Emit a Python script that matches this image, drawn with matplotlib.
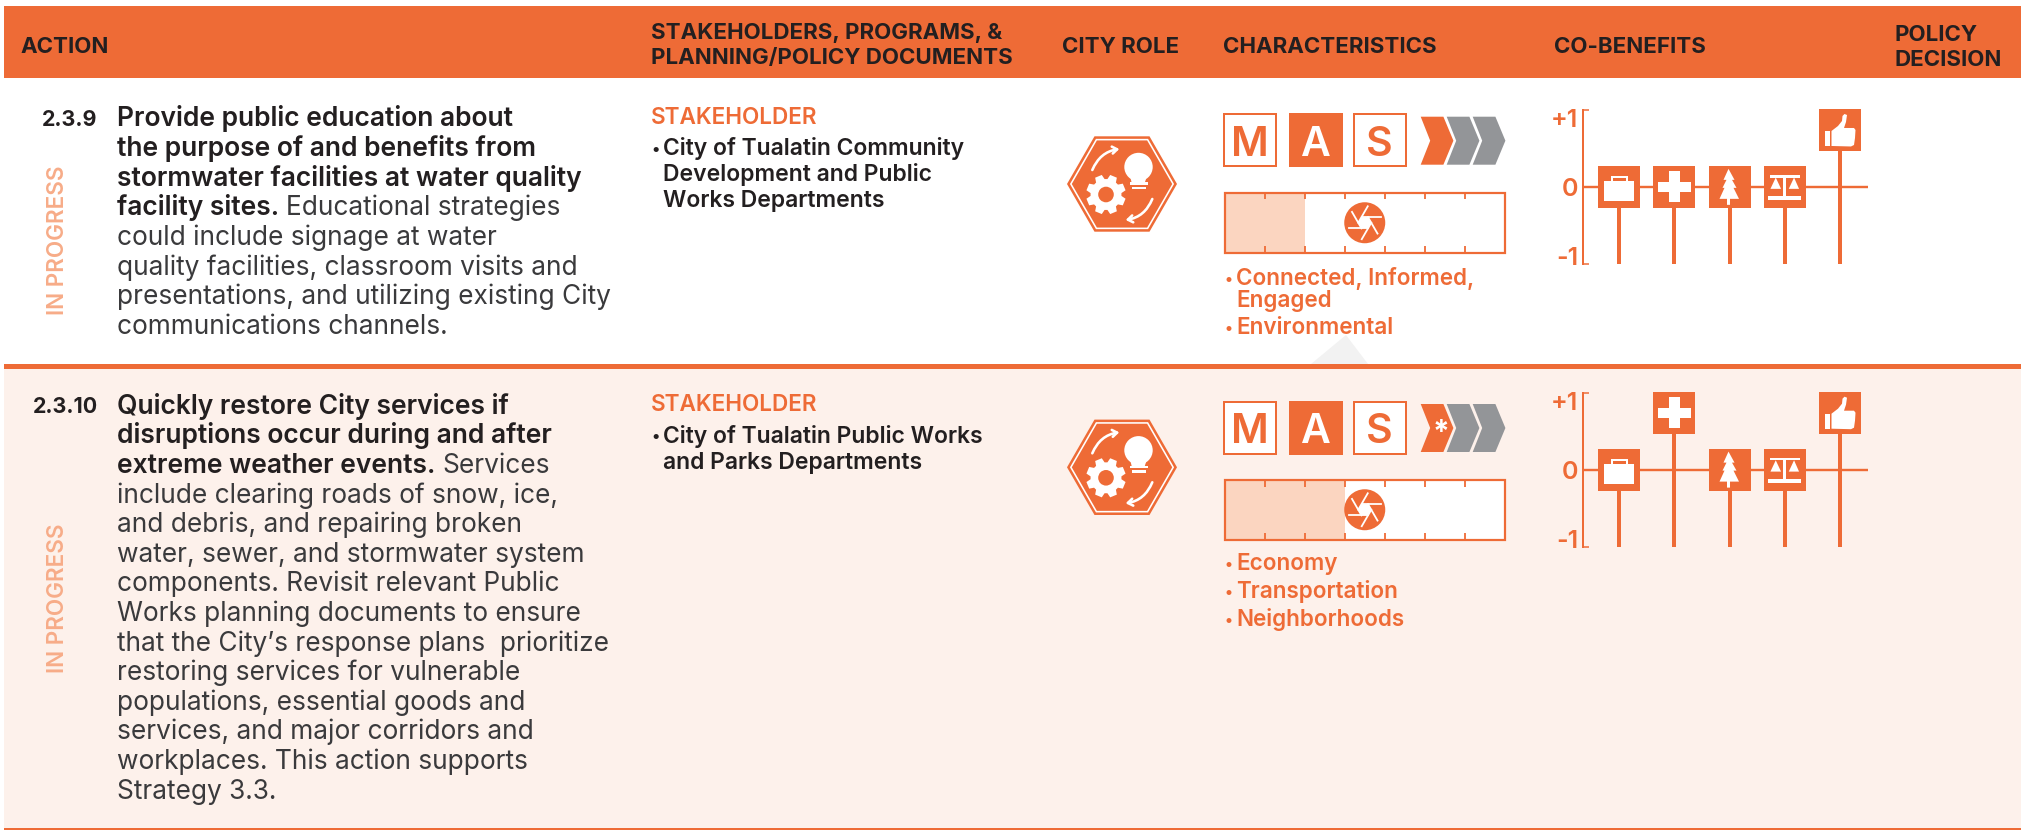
import numpy as np
import matplotlib
matplotlib.use("Agg")
import matplotlib.pyplot as plt
import matplotlib.patches as patches
from matplotlib.transforms import Affine2D

FONT = "Inter"
ORANGE = "#EE6B36"
LIGHT = "#FBD5C0"
FADED = "#F7AC88"
GREY = "#939598"
DARK = "#231F20"
BODY = "#3A3A3C"
TINT = "#FDF1EB"

# table contents
HEADERS = ["ACTION", "STAKEHOLDERS, PROGRAMS, &", "PLANNING/POLICY DOCUMENTS", "CITY ROLE",
           "CHARACTERISTICS", "CO-BENEFITS", "POLICY", "DECISION"]
NUMBERS = ["2.3.9", "2.3.10"]
STATUS = "IN PROGRESS"
ACTION_1 = [("Provide public education about", ""),
            ("the purpose of and benefits from", ""),
            ("stormwater facilities at water quality", ""),
            ("facility sites.", "Educational strategies"),
            ("", "could include signage at water"),
            ("", "quality facilities, classroom visits and"),
            ("", "presentations, and utilizing existing City"),
            ("", "communications channels.")]
ACTION_2 = [("Quickly restore City services if", ""),
            ("disruptions occur during and after", ""),
            ("extreme weather events.", "Services"),
            ("", "include clearing roads of snow, ice,"),
            ("", "and debris, and repairing broken"),
            ("", "water, sewer, and stormwater system"),
            ("", "components. Revisit relevant Public"),
            ("", "Works planning documents to ensure"),
            ("", "that the City\u2019s response plans  prioritize"),
            ("", "restoring services for vulnerable"),
            ("", "populations, essential goods and"),
            ("", "services, and major corridors and"),
            ("", "workplaces. This action supports"),
            ("", "Strategy 3.3.")]
STAKE_1 = ["City of Tualatin Community", "Development and Public", "Works Departments"]
STAKE_2 = ["City of Tualatin Public Works", "and Parks Departments"]
SECTORS_1 = [["Connected, Informed,", "Engaged"], ["Environmental"]]
SECTORS_2 = [["Economy"], ["Transportation"], ["Neighborhoods"]]

# values
MAS_LETTERS = ["M", "A", "S"]
MAS_ACTIVE = [0, 1, 0]
SCALE_CELLS = 7
SCALE_FILLED = [2, 3]
BENEFITS = ["briefcase", "cross", "tree", "scales", "thumb"]
BENEFIT_1 = [0, 0, 0, 0, 1]
BENEFIT_2 = [0, 1, 0, 0, 1]

W, H = 2021, 830
ICON_LIFT = 0.74

fig = plt.figure(figsize=(W / 100, H / 100), dpi=100, facecolor="white")
ax = fig.add_axes([0, 0, 1, 1])
ax.set_xlim(0, W)
ax.set_ylim(H, 0)
ax.axis("off")


def pt(v):
    return v * 0.72


def fit(text, width, weight):
    t = ax.text(0, 0, text, family=FONT, weight=weight, fontsize=20)
    w = t.get_window_extent(fig.canvas.get_renderer()).width
    t.remove()
    return 20 * width / w


SIZE_HEAD = fit("PLANNING/POLICY DOCUMENTS", 362, "bold")
SIZE_BOLD = fit("the purpose of and benefits from", 421, "semibold")
SIZE_BODY = fit("presentations, and utilizing existing City", 494, "normal")
SIZE_NUM = fit("2.3.9", 55.6, "bold")
SIZE_LABEL = fit("STAKEHOLDER", 167, "semibold")
SIZE_STAKE = fit("City of Tualatin Community", 302, "semibold")
SIZE_SECTOR = fit("Connected, Informed,", 239, "semibold")
SIZE_STATUS = fit(STATUS, 150, "semibold")


def put(x, y, s, size, weight="normal", color=DARK, **kw):
    return ax.text(x, y, s, family=FONT, fontsize=size, weight=weight, color=color, va="baseline", **kw)


def rect(x0, y0, x1, y1, **kw):
    kw.setdefault("linewidth", 0)
    p = patches.Rectangle((x0, y0), x1 - x0, y1 - y0, **kw)
    ax.add_patch(p)
    return p


def poly(pts, cx, cy, **kw):
    pts = np.array(pts, dtype=float) + [cx, cy]
    ax.add_patch(patches.Polygon(pts, closed=True, linewidth=kw.pop("linewidth", 0), **kw))


def draw_action(lines, base):
    r = fig.canvas.get_renderer()
    inv = ax.transData.inverted()
    for i, (bold, rest) in enumerate(lines):
        y = base + i * 29.6
        x = 117
        if bold:
            t = put(x, y, bold, SIZE_BOLD, "semibold", DARK)
            x = inv.transform(t.get_window_extent(r).p1)[0] + 7
        if rest:
            put(x, y, rest, SIZE_BODY, "normal", BODY)


def draw_role(cy, cx=1122):
    hexa = [(-55, 0), (-27.5, -47.7), (27.5, -47.7), (55, 0), (27.5, 47.7), (-27.5, 47.7)]
    poly(hexa, cx, cy, facecolor=ORANGE)
    inner = np.array(hexa) * 0.93
    poly(inner, cx, cy, facecolor="none", edgecolor="white", linewidth=pt(1.6))
    # bulb
    ax.add_patch(patches.Circle((cx + 16.5, cy - 17), 14.2, facecolor="white", linewidth=0))
    poly([(8, -8), (25, -8), (23, -2), (22.5, 0), (10, 0)], cx, cy, facecolor="white")
    rect(cx + 8, cy - 1.5, cx + 26, cy + 1, facecolor="white")
    rect(cx + 10, cy + 3, cx + 24, cy + 5.5, facecolor="white")
    # gear
    gx, gy = cx - 16, cy + 10.5
    ang = np.linspace(0, 2 * np.pi, 8, endpoint=False) + np.pi / 8
    pts = []
    for a in ang:
        for da, r in [(-0.30, 15.5), (-0.18, 20), (0.18, 20), (0.30, 15.5)]:
            pts.append((r * np.cos(a + da), r * np.sin(a + da)))
    poly(pts, gx, gy, facecolor="white")
    ax.add_patch(patches.Circle((gx, gy), 7.8, facecolor=ORANGE, linewidth=0))
    # arrows
    for a, b in [((-29.7, -14), (-2.7, -35)), ((30.3, 15), (3.7, 36))]:
        ax.add_patch(patches.FancyArrowPatch((cx + a[0], cy + a[1]), (cx + b[0], cy + b[1]),
                                             connectionstyle="arc3,rad=-0.28",
                                             arrowstyle="->,head_length=3.5,head_width=2.5",
                                             color="white", linewidth=pt(2.6), shrinkA=0, shrinkB=0))


def draw_mas(top):
    lefts = [1223.3, 1288.7, 1352.7]
    for x0, letter, on in zip(lefts, MAS_LETTERS, MAS_ACTIVE):
        rect(x0 + 1, top + 1, x0 + 53, top + 53, facecolor=ORANGE if on else "white",
             edgecolor=ORANGE, linewidth=pt(2))
        ax.text(x0 + 27, top + 27.5, letter, family=FONT, fontsize=pt(41), weight="semibold",
                color="white" if on else ORANGE, ha="center", va="center_baseline")


def draw_chevrons(cy, star=False):
    shape = [(0, -24), (22.7, -24), (32.7, 0), (22.7, 24), (0, 24), (9.5, 0)]
    for i, col in enumerate([ORANGE, GREY, GREY]):
        poly(shape, 1420.7 + i * 26, cy, facecolor=col)
    if star:
        ax.text(1440.7, cy + 5, "*", family=FONT, fontsize=pt(30), weight="bold", color="white",
                ha="center", va="center")


def draw_aperture(cx, cy):
    ax.add_patch(patches.Circle((cx, cy), 20.5, facecolor=ORANGE, linewidth=0, zorder=4))
    hexa = []
    for k in range(6):
        a = np.radians(60 * k)
        hexa.append((6.5 * np.cos(a), 6.5 * np.sin(a)))
        d = a + np.radians(120)
        x0, y0 = hexa[-1]
        ax.plot([cx + x0, cx + x0 + 19 * np.cos(d)], [cy + y0, cy + y0 + 19 * np.sin(d)],
                color="white", linewidth=pt(1.8), zorder=5)
    ax.add_patch(patches.Polygon(np.array(hexa) + [cx, cy], facecolor="white", linewidth=0, zorder=5))


def draw_scale(top, filled):
    x0, x1 = 1224.5, 1505
    bottom = top + 60.5
    step = (x1 - x0) / SCALE_CELLS
    rect(x0, top, x1, bottom, facecolor="white", linewidth=0)
    rect(x0, top, x0 + filled * step, bottom, facecolor=LIGHT, linewidth=0)
    for i in range(1, SCALE_CELLS):
        x = x0 + i * step
        ax.plot([x, x], [top, top + 7], color=ORANGE, linewidth=pt(1.8), solid_capstyle="butt")
        ax.plot([x, x], [bottom - 7, bottom], color=ORANGE, linewidth=pt(1.8), solid_capstyle="butt")
    rect(x0, top, x1, bottom, facecolor="none", edgecolor=ORANGE, linewidth=pt(2.2))
    draw_aperture(x0 + 3.5 * step, (top + bottom) / 2)


def bullet(x, y, size, color):
    put(x, y - 1.5, "\u2022", size * 0.72, "semibold", color)


def draw_sectors(groups, baselines):
    k = 0
    for group in groups:
        for j, line in enumerate(group):
            if j == 0:
                bullet(1225, baselines[k], SIZE_SECTOR, ORANGE)
            put(1236, baselines[k], line, SIZE_SECTOR, "semibold", ORANGE)
            k += 1


def draw_stake(lines, label_y, first_y):
    put(651, label_y, "STAKEHOLDER", SIZE_LABEL, "semibold", ORANGE)
    bullet(651, first_y, SIZE_STAKE, DARK)
    for i, line in enumerate(lines):
        put(663, first_y + i * 26, line, SIZE_STAKE, "semibold", DARK)


def icon_shapes(name):
    # white shapes in pixels around the centre of the 42 px square, y down
    c = "white"
    if name == "briefcase":
        return [([(-15, -6), (15, -6), (15, 14), (-15, 14)], c),
                ([(-8, -6), (-8, -11), (9, -11), (9, -6), (7, -6), (7, -9), (-6, -9), (-6, -6)], c)]
    if name == "cross":
        return [([(-5.7, -16), (5.7, -16), (5.7, -5), (16.5, -5), (16.5, 5), (5.7, 5), (5.7, 15),
                  (-5.7, 15), (-5.7, 5), (-16, 5), (-16, -5), (-5.7, -5)], c)]
    if name == "tree":
        return [([(-1, -18), (5, -7), (2.5, -7), (7, 1), (4, 1), (9.5, 12), (0.5, 12), (0.5, 18),
                  (-2.5, 18), (-2.5, 12), (-10, 12), (-5, 1), (-7, 1), (-3, -7), (-6, -7)], c)]
    if name == "scales":
        return [([(-15, -12), (15, -12), (15, -9.3), (-15, -9.3)], c),
                ([(-9, -9.3), (-3.7, 2), (-14.3, 2)], c),
                ([(9.3, -9.3), (14.3, 2), (4, 2)], c),
                ([(-1.3, -9.3), (1.3, -9.3), (1.3, 9), (-1.3, 9)], c),
                ([(-17, 9), (16, 9), (16, 13), (-17, 13)], c)]
    return [([(-15.3, 1), (-10.3, 1), (-10.3, 16), (-15.3, 16)], c),
            ([(-8.5, 1), (-2, -4), (2, -9), (2.5, -14), (4.5, -16), (7, -15), (6, -8), (4, -2),
              (14, -2), (15.5, 0), (15, 8), (14, 15), (11, 16.5), (-8.5, 16)], c)]


def draw_benefits(values, top, bottom):
    x_first, step = 1619, 55.25
    left, right = 1582.7, 1868
    b = fig.add_axes([left / W, 1 - bottom / H, (right - left) / W, (bottom - top) / H])
    b.patch.set_alpha(0)
    b.set_xlim((left - x_first) / step, (right - x_first) / step)
    b.set_ylim(-1, 1)
    for side in ["top", "right", "bottom"]:
        b.spines[side].set_visible(False)
    b.spines["left"].set_color(ORANGE)
    b.spines["left"].set_linewidth(pt(2))
    b.set_xticks([])
    b.set_yticks([-1, 1])
    b.tick_params(axis="y", direction="in", length=pt(6), width=pt(1.5), color=ORANGE, labelleft=False)

    b.axhline(0, color=ORANGE, linewidth=pt(2.4), zorder=1)
    xs = np.arange(len(values))
    vals = np.array(values, dtype=float)
    b.vlines(xs, -1.005, vals * ICON_LIFT, color=ORANGE, linewidth=pt(4), capstyle="butt", zorder=2)
    b.scatter(xs, vals * ICON_LIFT, marker="s", s=pt(42) ** 2, color=ORANGE, linewidths=0, zorder=3, clip_on=False)

    for val, lab, off in [(1, "+1", -8), (0, "0", 0), (-1, "-1", 8)]:
        b.annotate(lab, (0, val), xycoords=b.get_yaxis_transform(), xytext=(pt(-4.5), pt(off)),
                   textcoords="offset points", ha="right", va="center_baseline", family=FONT,
                   fontsize=pt(25), weight="semibold", color=ORANGE, annotation_clip=False)

    to_main = ax.transData.inverted()
    for i, name in enumerate(BENEFITS):
        cx, cy = to_main.transform(b.transData.transform((i, vals[i] * ICON_LIFT)))
        for pts, col in icon_shapes(name):
            b.add_patch(patches.Polygon(pts, closed=True, facecolor=col, linewidth=0, zorder=4, clip_on=False,
                                        transform=Affine2D().translate(cx, cy) + ax.transData))


# page
rect(4, 6, W, 78, facecolor=ORANGE)
rect(4, 369, W, 828, facecolor=TINT)
poly([(1346, 335), (1368, 364), (1311, 364)], 0, 0, facecolor="#F2F2F2")
rect(4, 364, W, 369.5, facecolor=ORANGE)
rect(4, 827.7, W, H, facecolor=ORANGE)

# header
head_x = [20, 651, 651, 1062, 1223.4, 1554.4, 1895, 1895]
head_y = [53, 38.7, 64.3, 53, 53, 53, 40.7, 65.7]
for x, y, s in zip(head_x, head_y, HEADERS):
    put(x, y, s, SIZE_HEAD, "bold", DARK)

# row 1
put(97.6, 126, NUMBERS[0], SIZE_NUM, "bold", DARK, ha="right")
ax.text(58, 240.3, STATUS, family=FONT, fontsize=SIZE_STATUS, weight="semibold", color=FADED,
        rotation=90, ha="center", va="center")
draw_action(ACTION_1, 126.5)
draw_stake(STAKE_1, 123.7, 155.3)
draw_role(184)
draw_mas(113.5)
draw_chevrons(140.7)
draw_scale(192.5, SCALE_FILLED[0])
draw_sectors(SECTORS_1, [285, 306.7, 334])
draw_benefits(BENEFIT_1, 110, 263.7)

# row 2
put(97.6, 413.3, NUMBERS[1], SIZE_NUM, "bold", DARK, ha="right")
ax.text(58, 598.6, STATUS, family=FONT, fontsize=SIZE_STATUS, weight="semibold", color=FADED,
        rotation=90, ha="center", va="center")
draw_action(ACTION_2, 413.8)
draw_stake(STAKE_2, 411, 442.7)
draw_role(467.3)
draw_mas(400.7)
draw_chevrons(428, star=True)
draw_scale(479.5, SCALE_FILLED[1])
draw_sectors(SECTORS_2, [570, 598, 626])
draw_benefits(BENEFIT_2, 392.7, 546.5)

fig.savefig("out.png", dpi=100)
